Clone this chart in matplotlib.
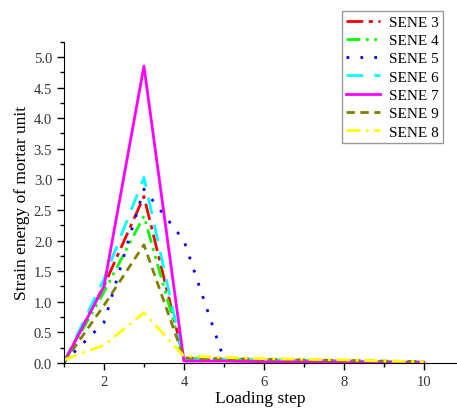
import numpy as np
import matplotlib
matplotlib.use("Agg")
import matplotlib.pyplot as plt
from matplotlib.ticker import MultipleLocator

plt.rcParams["font.family"] = ["Liberation Serif", "DejaVu Serif"]

# zatezovaci kroky
kroky = [1, 2, 3, 4, 5, 6, 7, 8, 9, 10]

# energie pretvoreni pro jednotlive serie
sene3 = [0.01, 1.26, 2.72, 0.06, 0.05, 0.04, 0.04, 0.03, 0.02, 0.01]
sene4 = [0.01, 1.16, 2.40, 0.08, 0.06, 0.05, 0.04, 0.03, 0.02, 0.01]
sene5 = [0.01, 0.66, 2.84, 2.00, 0.06, 0.05, 0.04, 0.03, 0.02, 0.01]
sene6 = [0.01, 1.37, 3.03, 0.05, 0.05, 0.04, 0.03, 0.03, 0.02, 0.01]
sene7 = [0.01, 1.25, 4.85, 0.03, 0.03, 0.02, 0.02, 0.02, 0.01, 0.01]
sene9 = [0.01, 0.94, 1.93, 0.08, 0.07, 0.06, 0.05, 0.04, 0.03, 0.02]
sene8 = [0.05, 0.29, 0.82, 0.11, 0.09, 0.07, 0.06, 0.05, 0.03, 0.02]

serie = [
    ("SENE 3", sene3, "#ff0000", (0, (6, 2, 1.5, 2))),
    ("SENE 4", sene4, "#00ff00", (0, (5, 2, 1, 2, 1, 2))),
    ("SENE 5", sene5, "#0000ff", (0, (1, 4))),
    ("SENE 6", sene6, "#00ffff", (0, (6, 4))),
    ("SENE 7", sene7, "#ff00ff", "-"),
    ("SENE 9", sene9, "#808000", (0, (3, 2))),
    ("SENE 8", sene8, "#ffff00", (0, (5, 2, 1, 2))),
]

fig = plt.figure(figsize=(4.57, 4.14), dpi=100)
ax = fig.add_axes([0.140, 0.121, 0.860, 0.776])

for nazev, hodnoty, barva, styl in serie:
    ax.plot(kroky, hodnoty, color=barva, linestyle=styl, linewidth=2.0, label=nazev)

ax.set_xlim(1, 10.83)
ax.set_ylim(0, 5.25)
ax.xaxis.set_major_locator(MultipleLocator(2))
ax.xaxis.set_minor_locator(MultipleLocator(1))
ax.yaxis.set_major_locator(MultipleLocator(0.5))
ax.yaxis.set_minor_locator(MultipleLocator(0.25))
ax.yaxis.set_major_formatter(matplotlib.ticker.FormatStrFormatter("%.1f"))

ax.spines["top"].set_visible(False)
ax.spines["right"].set_visible(False)
ax.tick_params(which="major", direction="out", length=5, width=1, labelsize=10.5, labelcolor="#333333")
ax.tick_params(which="minor", direction="out", length=3, width=1)

ax.set_xlabel("Loading step", fontsize=12.5, labelpad=2)
ax.set_ylabel("Strain energy of mortar unit", fontsize=12.5, labelpad=3)

leg = fig.legend(loc="upper right", bbox_to_anchor=(0.97, 0.972), fontsize=11,
                 frameon=True, fancybox=False, handlelength=2.2, labelspacing=0.3,
                 borderpad=0.3, handletextpad=0.6, borderaxespad=0)
leg.get_frame().set_edgecolor("#808080")
leg.get_frame().set_linewidth(1)

fig.savefig("out.png", dpi=100)
